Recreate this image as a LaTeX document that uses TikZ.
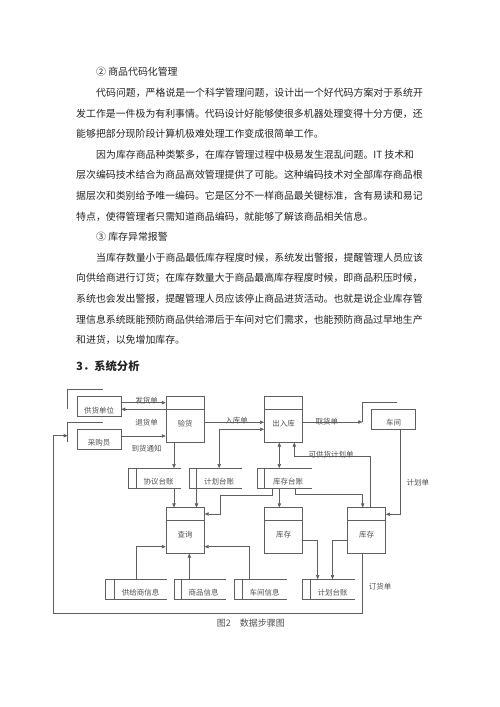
\documentclass[tikz,border=0pt]{standalone}
\usepackage{fontspec}
\setmainfont{Noto Sans CJK SC}
\usepackage{xcolor}
\usepackage{tikz}
\usetikzlibrary{arrows.meta}
\definecolor{LineGray}{RGB}{95,95,95}
\definecolor{TextGray}{RGB}{35,35,35}
\definecolor{LabelGray}{RGB}{80,80,80}

\begin{document}
\begin{tikzpicture}[x=1pt, y=-1pt,
    line/.style={draw=LineGray, line width=0.6pt},
    arr/.style={line, -{Triangle[length=4pt,width=3.4pt]}},
    dbl/.style={line, {Triangle[length=4pt,width=3.4pt]}-{Triangle[length=4pt,width=3.4pt]}},
    body/.style={anchor=base west, inner sep=0pt, text=TextGray, font=\fontsize{9.9}{12}\selectfont},
    lbl/.style={inner sep=0pt, text=LabelGray, font=\fontsize{7.5}{9}\selectfont},
    entity/.style={line, lbl, minimum width=44pt, minimum height=20pt, text height=13pt, text depth=0pt},
    proc/.style={line, lbl, minimum width=38.3pt, minimum height=45.5pt, text height=14pt, text depth=0pt},
    store/.style={lbl, minimum width=45pt, minimum height=20pt, text height=13pt, text depth=0pt}]
    \useasboundingbox (0,0) rectangle (500,707);

    % Text above the figure
    \foreach \x/\t [count=\i] in {
        96/{② 商品代码化管理},
        96/{代码问题，严格说是一个科学管理问题，设计出一个好代码方案对于系统开},
        76/{发工作是一件极为有利事情。代码设计好能够使很多机器处理变得十分方便，还},
        76/{能够把部分现阶段计算机极难处理工作变成很简单工作。},
        96/{因为库存商品种类繁多，在库存管理过程中极易发生混乱问题。IT 技术和},
        76/{层次编码技术结合为商品高效管理提供了可能。这种编码技术对全部库存商品根},
        76/{据层次和类别给予唯一编码。它是区分不一样商品最关键标准，含有易读和易记},
        76/{特点，使得管理者只需知道商品编码，就能够了解该商品相关信息。},
        96/{③ 库存异常报警},
        96/{当库存数量小于商品最低库存程度时候，系统发出警报，提醒管理人员应该},
        76/{向供给商进行订货；在库存数量大于商品最高库存程度时候，即商品积压时候，},
        76/{系统也会发出警报，提醒管理人员应该停止商品进货活动。也就是说企业库存管},
        76/{理信息系统既能预防商品供给滞后于车间对它们需求，也能预防商品过早地生产},
        76/{和进货，以免增加库存。}}
        \node[body] (l\i) at (\x,{75.8+20.6*(\i-1)}) {\t};

    % Section title
    \node[anchor=base west, inner sep=0pt, text=TextGray, font=\bfseries\fontsize{11.3}{14}\selectfont] (sec) at (76,370) {3．系统分析};

    % External entities
    \node[entity] (ghdw) at (99,406.7) {供货单位};
    \node[entity] (cgy) at (99,439) {采购员};
    \node[entity] (cj) at (393.7,419.3) {车间};
    \foreach \n in {ghdw,cgy,cj}
        \draw[line] ([shift={(26pt,6.7pt)}]\n.north west) -| ([shift={(-9pt,-13pt)}]\n.north west);

    % Processes
    \node[proc] (yh) at (185.2,419.5) {验货};
    \node[proc] (crk) at (283.5,419.5) {出入库};
    \node[proc] (cx) at (185.2,530.5) {查询};
    \node[proc] (kc1) at (283.5,530.5) {库存};
    \node[proc] (kc2) at (366.5,530.5) {库存};
    \foreach \n in {yh,crk,cx,kc1,kc2}
        \draw[line] ([yshift=-13pt]\n.north west) -- ([yshift=-13pt]\n.north east);

    % Data stores
    \node[store] (xy) at (158.5,478.3) {协议台账};
    \node[store] (jh1) at (219.2,478.3) {计划台账};
    \node[store, minimum width=47.4pt] (kctz) at (288,478.3) {库存台账};
    \node[store, minimum width=52.4pt] (gys) at (140.5,589.3) {供给商信息};
    \node[store] (sp) at (203.5,589.3) {商品信息};
    \node[store, minimum width=44.4pt] (cjxx) at (264.5,589.3) {车间信息};
    \node[store] (jh2) at (332.5,589.3) {计划台账};
    \foreach \n/\w in {xy/7.5,jh1/7.5,kctz/7,gys/9.3,sp/7,cjxx/8,jh2/7.3}
        \draw[line] (\n.north east) -- ([xshift=-\w]\n.north west) -- ([xshift=-\w]\n.south west) -- (\n.south east)
            (\n.north west) -- (\n.south west);

    % Flows
    \draw[arr] ([yshift=4pt]ghdw.east) coordinate (p) -- (p -| yh.west);
    \draw[arr] ([yshift=10.2pt]yh.west) coordinate (p) -- (p -| ghdw.east);
    \draw[arr] ([yshift=3pt]cgy.east) coordinate (p) -- (p -| yh.west);
    \draw[arr] ([yshift=-2.8pt]yh.east) coordinate (p) -- (p -| crk.west);
    \draw[dbl] ([yshift=-9.8pt]crk.west) -| (jh1.north);
    \draw[arr] ([xshift=-11.2pt]yh.south) coordinate (p) -- (p |- xy.north);
    \draw[dbl] ([xshift=-4.2pt]crk.south) coordinate (p) -- (p |- kctz.north);
    \draw[arr] ([xshift=3.5pt]kc2.north) |- ([xshift=10.8pt,yshift=-13.75pt]crk.south) -- ([xshift=10.8pt]crk.south);
    \coordinate (cjL) at ([shift={(-9pt,-13pt)}]cj.north west);
    \draw[arr] (crk.east |- cjL) -- (cjL);
    \draw[arr] ([xshift=7pt]cj.south) |- ([yshift=16.2pt]kc2.east);
    \draw[arr] ([xshift=-16pt]kctz.south) -- ++(0,6.7) -- ++(-52,0) |- ([yshift=16.5pt]cx.east);
    \draw[arr] ([xshift=-8.7pt]kctz.south) coordinate (p) -- (p |- kc1.north);
    \draw[arr] ([xshift=7pt]kctz.south) -- ++(0,5.7) -| ([xshift=-3.8pt]kc2.north);
    \draw[arr] ([xshift=15.5pt]xy.south) coordinate (p) -- (p |- cx.north);
    \draw[arr] (jh1.south west) coordinate (p) -- (p |- cx.north);
    \draw[arr] ([yshift=-10.2pt]kc1.east) -| ([xshift=-14.8pt]jh2.north);
    \draw[arr] ([yshift=-10.2pt]kc2.west) -| (jh2.north);
    \coordinate (cgyL) at ([shift={(-9pt,-7pt)}]cgy.north west);
    \draw[arr] ([xshift=-3.8pt]kc2.south) -- ++(0,59.4) -- ++(-309.4,0) |- (cgyL);
    \draw[arr] ([xshift=-4.5pt]gys.north) |- ([yshift=-16.2pt]cx.west);
    \draw[arr] ([xshift=-14.2pt]sp.north) coordinate (p) -- (p |- cx.south);
    \draw[arr] ([xshift=-15.2pt]cjxx.north) |- ([yshift=-16.2pt]cx.east);

    % Flow labels
    \node[lbl] (t_fh) at (146.7,400.3) {发货单};
    \node[lbl] (t_th) at (146.7,422.7) {退货单};
    \node[lbl] (t_dh) at (146.7,449) {到货通知};
    \node[lbl] (t_rk) at (236.5,420.8) {入库单};
    \node[lbl] (t_qh) at (326.8,421.3) {取货单};
    \node[lbl] (t_kg) at (331,454.5) {可供货计划单};
    \node[lbl] (t_jh) at (417.8,482.3) {计划单};
    \node[lbl] (t_dd) at (380,587) {订货单};

    % Caption
    \node[anchor=base west, inner sep=0pt, text=LabelGray, font=\fontsize{9}{11}\selectfont] (cap) at (216.7,626) {图2\hspace{9pt}数据步骤图};
\end{tikzpicture}
\end{document}
